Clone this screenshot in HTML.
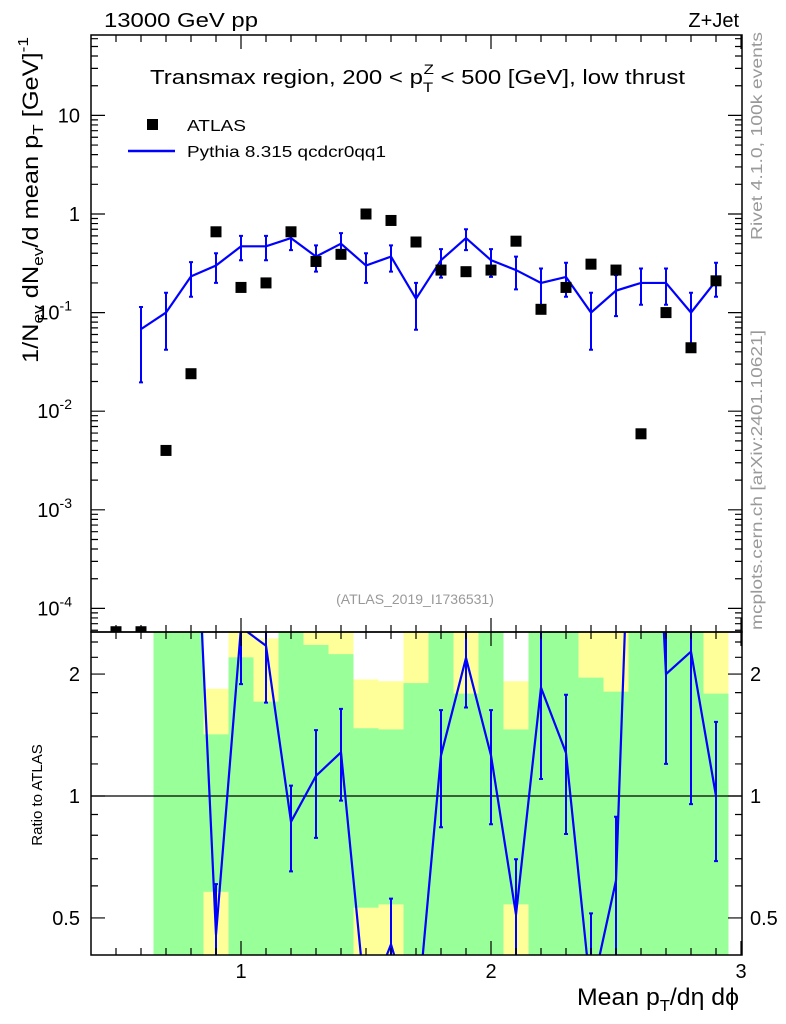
<!DOCTYPE html>
<html><head><meta charset="utf-8">
<style>
html,body{margin:0;padding:0;background:#fff;overflow:hidden;width:786px;height:1024px;}
svg{display:block;font-family:"Liberation Sans","DejaVu Sans",sans-serif;}
</style></head>
<body>
<svg id="chart" width="786" height="1024" viewBox="0 0 786 1024" xmlns="http://www.w3.org/2000/svg">
<defs>
<clipPath id="clipMain"><rect x="91" y="35" width="651" height="597"/></clipPath>
<clipPath id="clipRatio"><rect x="91" y="632" width="651" height="323"/></clipPath>
</defs>
<g id="bands" clip-path="url(#clipRatio)"></g>
<g id="marks"></g>
<g id="axes"></g>
<text x="104" y="27" font-size="20" textLength="154" lengthAdjust="spacingAndGlyphs">13000 GeV pp</text>
<text x="739" y="27" font-size="20" text-anchor="end">Z+Jet</text>
<text x="150" y="84" font-size="20" textLength="535" lengthAdjust="spacingAndGlyphs">Transmax region, 200 &lt; p<tspan font-size="14" dy="8">T</tspan><tspan font-size="14" dx="-8" dy="-18">Z</tspan><tspan dy="10" font-size="20"> &lt; 500 [GeV], low thrust</tspan></text>
<rect x="147" y="119" width="11" height="11" fill="#000"/>
<text x="187" y="131" font-size="16" textLength="59" lengthAdjust="spacingAndGlyphs">ATLAS</text>
<line x1="128" y1="151" x2="175" y2="151" stroke="#0000ff" stroke-width="2.5"/>
<text x="187" y="157" font-size="16" textLength="199" lengthAdjust="spacingAndGlyphs">Pythia 8.315 qcdcr0qq1</text>
<text x="415" y="604" font-size="14" fill="#999" text-anchor="middle">(ATLAS_2019_I1736531)</text>
<text transform="translate(762,240) rotate(-90)" font-size="16" fill="#999" textLength="208" lengthAdjust="spacingAndGlyphs">Rivet 4.1.0,  100k events</text>
<text transform="translate(762,630) rotate(-90)" font-size="16" fill="#999" textLength="300" lengthAdjust="spacingAndGlyphs">mcplots.cern.ch [arXiv:2401.10621]</text>
<text transform="translate(38,363) rotate(-90)" font-size="22" textLength="326" lengthAdjust="spacingAndGlyphs">1/N<tspan font-size="15" dy="5">ev</tspan><tspan dy="-5"> dN</tspan><tspan font-size="15" dy="5">ev</tspan><tspan dy="-5">/d mean p</tspan><tspan font-size="15" dy="5">T</tspan><tspan dy="-5"> [GeV]</tspan><tspan font-size="15" dy="-10">-1</tspan></text>
<text transform="translate(42,795) rotate(-90)" font-size="15" text-anchor="middle">Ratio to ATLAS</text>
<text x="739" y="1005" font-size="24" text-anchor="end" textLength="162" lengthAdjust="spacingAndGlyphs">Mean p<tspan font-size="16" dy="6">T</tspan><tspan dy="-6">/dη dϕ</tspan></text>
</svg>
<script>
const xCenters=[0.5,0.6,0.7,0.8,0.9,1.0,1.1,1.2,1.3,1.4,1.5,1.6,1.7,1.8,1.9,2.0,2.1,2.2,2.3,2.4,2.5,2.6,2.7,2.8,2.9];
const dataVals=[5.8e-5,5.8e-5,0.004,0.024,0.66,0.18,0.20,0.66,0.33,0.39,1.0,0.86,0.52,0.27,0.26,0.27,0.53,0.108,0.18,0.31,0.27,0.0059,0.10,0.044,0.21];
const mcX=[0.6,0.7,0.8,0.9,1.0,1.1,1.2,1.3,1.4,1.5,1.6,1.7,1.8,1.9,2.0,2.1,2.2,2.3,2.4,2.5,2.6,2.7,2.8,2.9];
const mcVals=[0.068,0.10,0.233,0.30,0.47,0.47,0.57,0.37,0.50,0.30,0.37,0.138,0.34,0.57,0.34,0.27,0.20,0.23,0.10,0.167,0.20,0.20,0.10,0.21];
const mcUp=[0.114,0.159,0.325,0.40,0.60,0.60,0.70,0.48,0.64,0.40,0.48,0.20,0.44,0.70,0.44,0.37,0.28,0.32,0.159,0.24,0.28,0.28,0.159,0.32];
const mcDown=[0.0196,0.042,0.145,0.20,0.34,0.34,0.43,0.26,0.38,0.20,0.26,0.067,0.226,0.43,0.23,0.172,0.119,0.145,0.042,0.092,0.12,0.12,0.042,0.145];
const bandX=[0.7,0.8,0.9,1.0,1.1,1.2,1.3,1.4,1.5,1.6,1.7,1.8,1.9,2.0,2.1,2.2,2.3,2.4,2.5,2.6,2.7,2.8,2.9];
const greenHi=[3,3,1.42,2.20,1.71,3,2.36,2.24,1.47,1.46,1.90,3,1.79,3,1.46,3,3,1.96,1.81,3,3,3,1.79];
const greenLo=[0.3,0.3,0.58,0.3,0.3,0.3,0.3,0.3,0.53,0.54,0.3,0.3,0.3,0.3,0.54,0.3,0.3,0.3,0.3,0.3,0.3,0.3,0.3];
const yellowHi=[3,3,1.84,3,2.45,3,3,3,1.94,1.92,3,3,3,3,1.92,3,3,3,3,3,3,3,3];
const yellowLo=[0.3,0.3,0.3,0.3,0.3,0.3,0.3,0.3,0.3,0.3,0.3,0.3,0.3,0.3,0.3,0.3,0.3,0.3,0.3,0.3,0.3,0.3,0.3];
const xTickLabels=["1","2","3"];
const yTickLabels=["10","1","10^-1","10^-2","10^-3","10^-4"];
const ratioTickLabels=["0.5","1","2"];

const NS="http://www.w3.org/2000/svg";
const L=91,R=742,T=35,MB=632,RB=955;
const sx=v=>L+(v-0.4)*250;
const syMain=v=>214-Math.log10(v)*98.6;
const sr=v=>796-Math.log10(v)*405;
function mk(tag,attrs,parent){const e=document.createElementNS(NS,tag);for(const k in attrs)e.setAttribute(k,attrs[k]);parent.appendChild(e);return e;}
const bands=document.getElementById('bands'),marks=document.getElementById('marks'),axes=document.getElementById('axes');

bandX.forEach((x,i)=>{
  let e=mk('rect',{x:sx(x-0.05),y:sr(yellowHi[i]),width:25,height:sr(yellowLo[i])-sr(yellowHi[i]),fill:'#ffff99'},bands);
  
  
  e=mk('rect',{x:sx(x-0.05),y:sr(greenHi[i]),width:25,height:sr(greenLo[i])-sr(greenHi[i]),fill:'#99ff99'},bands);
  
  
});
let ref=mk('line',{x1:L,x2:R,y1:sr(1),y2:sr(1),stroke:'#000','stroke-width':1.2},marks);



const gm=mk('g',{'clip-path':'url(#clipMain)'},marks);


let pts=mcX.map((x,i)=>sx(x)+','+syMain(mcVals[i])).join(' ');
let pl=mk('polyline',{points:pts,fill:'none',stroke:'#0000ff','stroke-width':2.2},gm);


mcX.forEach((x,i)=>{
  const X=sx(x);
  let e=mk('path',{d:`M${X},${syMain(mcUp[i])}V${syMain(mcDown[i])}M${X-2},${syMain(mcUp[i])}h4M${X-2},${syMain(mcDown[i])}h4`,stroke:'#0000ff','stroke-width':2,fill:'none'},gm);
  
  
});
xCenters.forEach((x,i)=>{
  let e=mk('rect',{x:sx(x)-5.5,y:syMain(dataVals[i])-5.5,width:11,height:11,fill:'#000'},gm);
  
  
});

const gr=mk('g',{'clip-path':'url(#clipRatio)'},marks);


const ratio=mcX.map((x,i)=>mcVals[i]/dataVals[xCenters.indexOf(x)]);
pts=mcX.map((x,i)=>sx(x)+','+sr(ratio[i])).join(' ');
pl=mk('polyline',{points:pts,fill:'none',stroke:'#0000ff','stroke-width':2.2},gr);


mcX.forEach((x,i)=>{
  const d=dataVals[xCenters.indexOf(x)],X=sx(x),u=sr(mcUp[i]/d),lo=sr(mcDown[i]/d);
  let e=mk('path',{d:`M${X},${u}V${lo}M${X-2},${u}h4M${X-2},${lo}h4`,stroke:'#0000ff','stroke-width':2,fill:'none'},gr);
  
  
});

let f=mk('rect',{x:L,y:T,width:R-L,height:MB-T,fill:'none',stroke:'#000','stroke-width':1.5},axes);


f=mk('rect',{x:L,y:MB,width:R-L,height:RB-MB,fill:'none',stroke:'#000','stroke-width':1.5},axes);


let d='';
for(let k=5;k<=30;k++){const v=k/10,X=sx(v),len=(k%10===0)?14:7;
  d+=`M${X},${T}v${len}M${X},${MB}v${-len}M${X},${MB}v${len}M${X},${RB}v${-len}`;}
for(let e=-5;e<=1;e++){for(let m=1;m<10;m++){const v=m*Math.pow(10,e),Y=syMain(v);if(Y<T||Y>MB)continue;const len=m===1?14:7;d+=`M${L},${Y}h${len}M${R},${Y}h${-len}`;}}
[0.5,0.6,0.7,0.8,0.9,1,1.2,1.4,1.6,1.8,2,2.2,2.4].forEach(v=>{const Y=sr(v),len=(v===0.5||v===1||v===2)?14:7;d+=`M${L},${Y}h${len}M${R},${Y}h${-len}`;});
f=mk('path',{d:d,stroke:'#000','stroke-width':1.2,fill:'none'},axes);


xTickLabels.forEach(s=>{
  let t=mk('text',{x:sx(+s),y:978,'font-size':20,'text-anchor':'middle'},axes);t.textContent=s;
  
  
});
yTickLabels.forEach(s=>{
  let v,t;
  if(s.includes('^')){const [b,e]=s.split('^');v=Math.pow(10,+e);
    t=mk('text',{x:72,y:syMain(v)+7,'font-size':20,'text-anchor':'end'},axes);
    const a=document.createElementNS(NS,'tspan');a.textContent=b;t.appendChild(a);
    const sp=document.createElementNS(NS,'tspan');sp.setAttribute('font-size','14');sp.setAttribute('dy','-9');sp.textContent=e;t.appendChild(sp);
  } else {v=+s;t=mk('text',{x:80,y:syMain(v)+7,'font-size':20,'text-anchor':'end'},axes);t.textContent=s;}
  
  
});
ratioTickLabels.forEach(s=>{
  let t=mk('text',{x:80,y:sr(+s)+7,'font-size':20,'text-anchor':'end'},axes);t.textContent=s;
  
  
  t=mk('text',{x:750,y:sr(+s)+7,'font-size':20},axes);t.textContent=s;
  
  
});
</script>
</body></html>
